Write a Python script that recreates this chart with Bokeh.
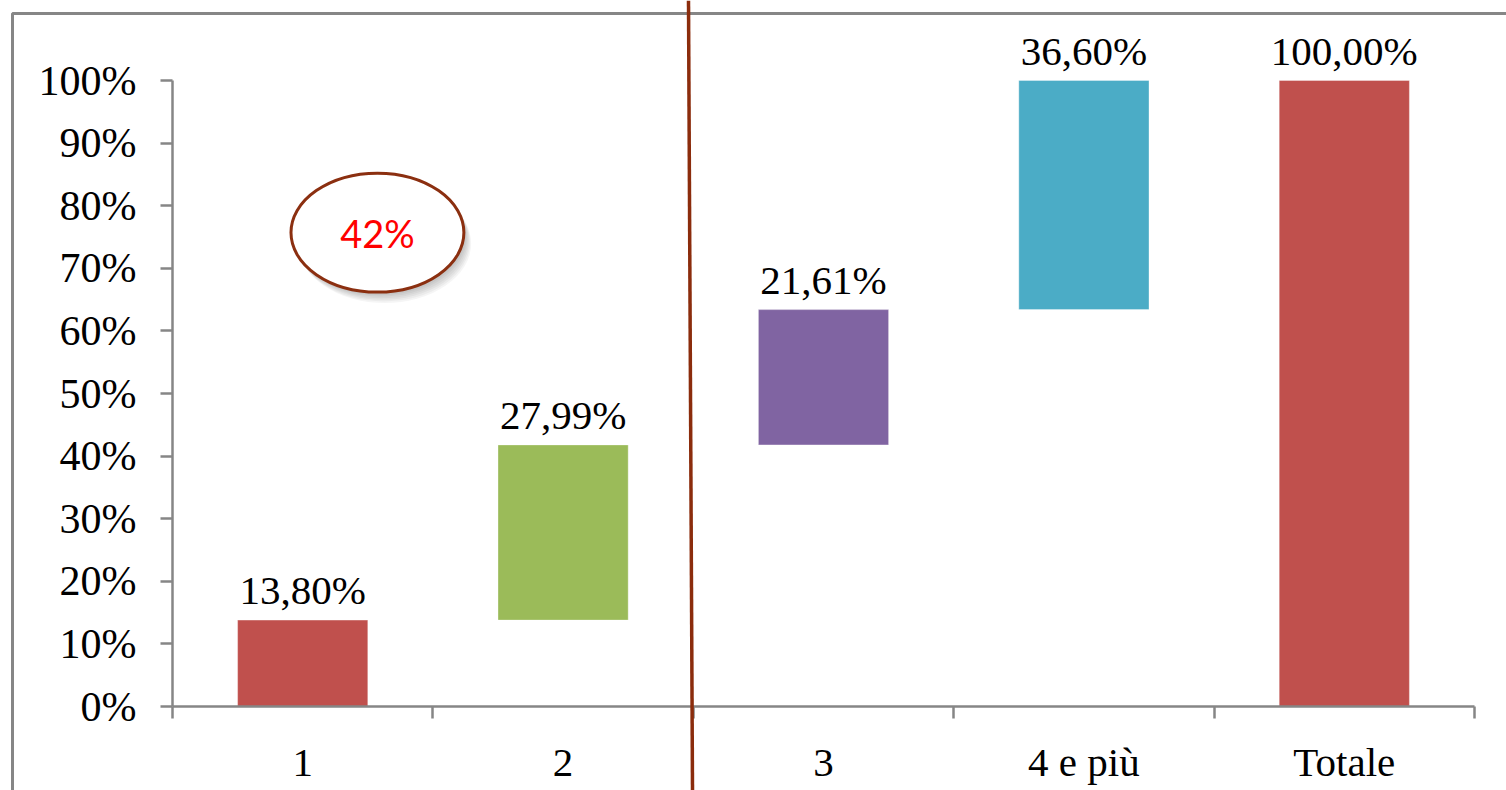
from bokeh.plotting import figure
from bokeh.models import (Range1d, FixedTicker, NumeralTickFormatter, ColumnDataSource,
                          BoxAnnotation, Arrow, Label, LinearAxis)
from bokeh.core.properties import value
from bokeh.embed import file_html
from bokeh.resources import INLINE

# Waterfall data: share of each group, then the total
categories = ["1", "2", "3", "4 e più", "Totale"]
shares = [13.80, 27.99, 21.61, 36.60, 100.00]
colors = ["#C0504D", "#9BBB59", "#8064A2", "#4BACC6", "#C0504D"]
y_tick_values = [0, 10, 20, 30, 40, 50, 60, 70, 80, 90, 100]
callout_text = "42%"

# floating bars: each group starts where the previous one ended, the total starts at zero
bottoms, tops = [], []
running = 0.0
for cat, s in zip(categories, shares):
    if cat == "Totale":
        bottoms.append(0.0)
        tops.append(s / 100)
    else:
        bottoms.append(running / 100)
        running += s
        tops.append(running / 100)

n = len(categories)
xs = [i + 0.5 for i in range(n)]
labels = [f"{s:.2f}".replace(".", ",") + "%" for s in shares]

src = ColumnDataSource(dict(x=xs, bottom=bottoms, top=tops, color=colors, label=labels))

# canvas geometry (pixels): the plotting frame covers the whole canvas and the
# axes are pinned inside it, so the outer border and divider can reach the edges
W, H = 1506, 790
ax_left, ax_right, ax_bottom, ax_top = 172, 1474, 706, 80
xpp = n / (ax_right - ax_left)          # data units per pixel along x
ypp = 1.0 / (ax_bottom - ax_top)        # data units per pixel along y

p = figure(width=W, height=H, output_backend="svg", toolbar_location=None,
           x_range=Range1d(-ax_left * xpp, n + (W - ax_right) * xpp),
           y_range=Range1d(-(H - ax_bottom) * ypp, ax_bottom * ypp),
           x_axis_type=None, y_axis_type=None,
           min_border=0, min_border_left=0, min_border_right=0,
           min_border_top=0, min_border_bottom=0)
p.grid.visible = False
p.outline_line_color = None
p.background_fill_color = "white"
p.border_fill_color = "white"

serif = "Liberation Serif"
axis_gray = "#868686"

# y axis
yax = LinearAxis(ticker=FixedTicker(ticks=[v / 100 for v in y_tick_values], minor_ticks=[]),
                 formatter=NumeralTickFormatter(format="0%"), fixed_location=0)
yax.axis_line_color = axis_gray
yax.axis_line_width = 2.5
yax.major_tick_line_color = axis_gray
yax.major_tick_line_width = 2.5
yax.major_tick_out = 12
yax.major_tick_in = 0
yax.major_label_standoff = 24
yax.major_label_text_font = serif
yax.major_label_text_font_size = "42px"
yax.major_label_text_color = "black"
yax.bounds = (0, 1)
p.add_layout(yax, "left")

# x axis: tick marks at category boundaries, labels at category centres
xax = LinearAxis(ticker=FixedTicker(ticks=xs, minor_ticks=list(range(n + 1))),
                 fixed_location=0)
xax.major_label_overrides = {x: c for x, c in zip(xs, categories)}
xax.bounds = (0, n)
xax.axis_line_color = axis_gray
xax.axis_line_width = 2.5
xax.major_tick_line_color = None
xax.major_tick_out = 12
xax.major_tick_in = 0
xax.minor_tick_line_color = axis_gray
xax.minor_tick_line_width = 2.5
xax.minor_tick_out = 12
xax.minor_tick_in = 0
xax.major_label_standoff = 20
xax.major_label_text_font = serif
xax.major_label_text_font_size = "41px"
xax.major_label_text_color = "black"
p.add_layout(xax, "below")

# bars
p.vbar(x="x", bottom="bottom", top="top", width=0.5, fill_color="color",
       line_color="white", line_alpha=0.35, line_width=1, source=src)

# value labels above bars
p.text(x="x", y="top", text="label", source=src, text_align="center",
       text_baseline="bottom", y_offset=-7, text_font=value(serif),
       text_font_size="41px", text_color="black")

# outer chart border
p.add_layout(BoxAnnotation(left=12, right=W + 40, top=13, bottom=H + 40,
                           left_units="canvas", right_units="canvas",
                           top_units="canvas", bottom_units="canvas",
                           fill_color=None, fill_alpha=0, line_color="#868686",
                           line_alpha=1.0, line_width=3, level="underlay"))

# callout ellipse with soft shadow
cx, cy, ew, eh = 0.787, 0.757, 0.664, 0.19
for k in range(1, 8):
    p.ellipse(x=cx + 0.004 * k, y=cy - 0.0025 * k, width=ew, height=eh,
              fill_color="#000000", fill_alpha=0.04, line_color=None)
p.ellipse(x=cx, y=cy, width=ew, height=eh, fill_color="white",
          line_color="#8B2F10", line_width=3)
p.add_layout(Label(x=cx, y=cy, text=callout_text, text_align="center",
                   text_baseline="middle", text_font="Lato", text_font_size="38px",
                   text_color="#FF0000"))

# divider between groups 1-2 and 3+
p.add_layout(Arrow(end=None, x_start=688, y_start=0, x_end=692, y_end=H,
                   start_units="canvas", end_units="canvas",
                   line_color="#8B2C0C", line_width=3.5))

open("out.html", "w").write(file_html(p, INLINE))
